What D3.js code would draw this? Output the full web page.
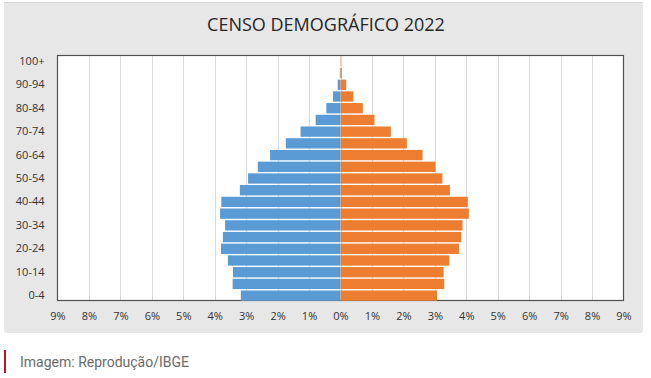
<!DOCTYPE html>
<html>
<head>
<meta charset="utf-8">
<script src="https://cdn.jsdelivr.net/npm/d3@7"></script>
<style>
  body { margin: 0; background: #fff; }
</style>
</head>
<body>
<div id="my_dataviz"></div>
<script>
// age groups, bottom to top
const ageGroups = ["0-4", "5-9", "10-14", "15-19", "20-24", "25-29", "30-34", "35-39",
  "40-44", "45-49", "50-54", "55-59", "60-64", "65-69", "70-74", "75-79",
  "80-84", "85-89", "90-94", "95-99", "100+"];

// share of population (%)
const male = [3.17, 3.43, 3.42, 3.58, 3.80, 3.74, 3.67, 3.83, 3.79, 3.20, 2.94,
  2.63, 2.24, 1.74, 1.27, 0.79, 0.45, 0.24, 0.09, 0.02, 0.005];
const female = [3.07, 3.30, 3.28, 3.46, 3.77, 3.84, 3.88, 4.08, 4.05, 3.48, 3.24,
  3.02, 2.61, 2.11, 1.60, 1.08, 0.71, 0.41, 0.18, 0.04, 0.01];

const xTicks = [-9, -8, -7, -6, -5, -4, -3, -2, -1, 0, 1, 2, 3, 4, 5, 6, 7, 8, 9];
const yTickLabels = ["0-4", "10-14", "20-24", "30-34", "40-44", "50-54", "60-64", "70-74", "80-84", "90-94", "100+"];

const chartTitle = "CENSO DEMOGRÁFICO 2022";
const caption = "Imagem: Reprodução/IBGE";

const width = 651, height = 378;
const plot = {left: 57.5, right: 623.5, top: 55.5, bottom: 300.5};

const svg = d3.select("#my_dataviz")
  .append("svg")
    .attr("width", width)
    .attr("height", height);

// grey panel behind the chart
svg.append("rect")
  .attr("x", 4).attr("y", 2)
  .attr("width", 639).attr("height", 331)
  .attr("rx", 3)
  .style("fill", "#e7e7e7");
svg.append("line")
  .attr("x1", 4).attr("x2", 643).attr("y1", 2.5).attr("y2", 2.5)
  .style("stroke", "#dadada");

// title
svg.append("text")
  .attr("x", 326).attr("y", 31)
  .attr("text-anchor", "middle")
  .style("font-family", "'Open Sans', sans-serif")
  .style("font-size", "18px")
  .style("fill", "#262626")
  .text(chartTitle);

// scales
const x = d3.scaleLinear()
  .domain([-9, 9])
  .range([plot.left, plot.right]);

const y = d3.scaleBand()
  .domain(ageGroups.slice().reverse())
  .range([plot.top, plot.bottom + 1])
  .paddingInner(0.12)
  .paddingOuter(0.06);

// plot area
svg.append("rect")
  .attr("x", plot.left).attr("y", plot.top)
  .attr("width", plot.right - plot.left)
  .attr("height", plot.bottom - plot.top)
  .style("fill", "#fff");

// vertical gridlines
svg.append("g")
  .selectAll("line")
  .data(xTicks.slice(1, -1))
  .join("line")
    .attr("x1", d => Math.round(x(d)) + 0.5)
    .attr("x2", d => Math.round(x(d)) + 0.5)
    .attr("y1", plot.top)
    .attr("y2", plot.bottom)
    .style("stroke", "#d9d9d9")
    .style("stroke-width", 1);

// frame
svg.append("rect")
  .attr("x", plot.left).attr("y", plot.top)
  .attr("width", plot.right - plot.left)
  .attr("height", plot.bottom - plot.top)
  .style("fill", "none")
  .style("stroke", "#505050")
  .style("stroke-width", 1.2);

// bars
const rows = ageGroups.map((a, i) => ({age: a, m: male[i], f: female[i]}));

svg.append("g")
  .selectAll("rect")
  .data(rows)
  .join("rect")
    .attr("x", d => x(-d.m))
    .attr("y", d => y(d.age))
    .attr("width", d => x(0) - x(-d.m))
    .attr("height", y.bandwidth())
    .style("fill", "#5b9bd5");

svg.append("g")
  .selectAll("rect")
  .data(rows)
  .join("rect")
    .attr("x", x(0))
    .attr("y", d => y(d.age))
    .attr("width", d => x(d.f) - x(0))
    .attr("height", y.bandwidth())
    .style("fill", "#ed7d31");

// axes
const yAxis = svg.append("g")
  .attr("transform", `translate(${plot.left},0)`)
  .call(d3.axisLeft(y).tickValues(yTickLabels).tickSize(0).tickPadding(13));

const xAxis = svg.append("g")
  .attr("transform", `translate(0,${plot.bottom})`)
  .call(d3.axisBottom(x).tickValues(xTicks).tickFormat(d => Math.abs(d) + "%").tickSize(0).tickPadding(12));

[yAxis, xAxis].forEach(ax => {
  ax.select(".domain").remove();
  ax.selectAll("text")
    .style("font-family", "'Open Sans', sans-serif")
    .style("font-size", "11px")
    .style("fill", "#333");
});

// source caption
svg.append("rect")
  .attr("x", 4).attr("y", 350)
  .attr("width", 2).attr("height", 23)
  .style("fill", "#c8102e");

svg.append("text")
  .attr("x", 20).attr("y", 367)
  .style("font-family", "Roboto, sans-serif")
  .style("font-size", "14px")
  .style("fill", "#6b6b6b")
  .text(caption);
</script>
</body>
</html>
